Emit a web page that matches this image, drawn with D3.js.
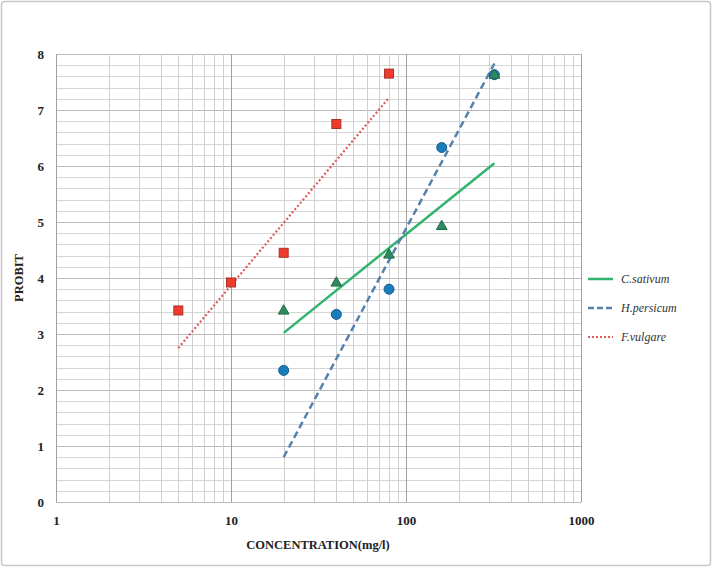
<!DOCTYPE html>
<html>
<head>
<meta charset="utf-8">
<script src="https://cdn.jsdelivr.net/npm/d3@7"></script>
<style>
  body { margin: 0; background: #fff; }
  svg { display: block; font-family: "Liberation Serif", "DejaVu Serif", serif; }
</style>
</head>
<body>
<div id="container"></div>
<script>
// probit values
var concC = [20, 40, 80, 160, 320];
var probitCsativum = [3.42, 3.92, 4.42, 4.93, 7.63];
var concH = [20, 40, 80, 160, 320];
var probitHpersicum = [2.35, 3.35, 3.80, 6.33, 7.63];
var concF = [5, 10, 20, 40, 80];
var probitFvulgare = [3.42, 3.92, 4.45, 6.75, 7.65];

// fitted lines, start and end as drawn
var fitCsativum = [[20, 3.02], [320, 6.05]];
var fitHpersicum = [[20, 0.80], [320, 7.83]];
var fitFvulgare = [[5, 2.75], [80, 7.22]];

var xTicks = [1, 10, 100, 1000];
var yTicks = [0, 1, 2, 3, 4, 5, 6, 7, 8];
var legendNames = ["C.sativum", "H.persicum", "F.vulgare"];

var width = 712, height = 567;
var plotLeft = 56, plotRight = 581, plotTop = 54, plotBottom = 502;

var svg = d3.select("#container").append("svg")
  .attr("width", width).attr("height", height);

// outer frame
svg.append("rect")
  .attr("x", 1.5).attr("y", 1.5)
  .attr("width", width - 3).attr("height", height - 3)
  .attr("rx", 3)
  .style("fill", "#fff").style("stroke", "#c8c8c8").style("stroke-width", 1.5);

var x = d3.scaleLog().domain([1, 1000]).range([plotLeft, plotRight]);
var y = d3.scaleLinear().domain([0, 8]).range([plotBottom, plotTop]);

// grid: minor lines first
var grid = svg.append("g");
var minorY = d3.range(0, 8.01, 0.2);
grid.selectAll("line.hy").data(minorY).enter().append("line")
  .attr("x1", plotLeft).attr("x2", plotRight)
  .attr("y1", function(d) { return Math.round(y(d)) + 0.5; })
  .attr("y2", function(d) { return Math.round(y(d)) + 0.5; })
  .style("stroke", function(d) { return Math.abs(d - Math.round(d)) < 1e-6 ? "#bababa" : "#d6d6d6"; })
  .style("stroke-width", 1);

var minorX = x.ticks();
grid.selectAll("line.vx").data(minorX).enter().append("line")
  .attr("x1", function(d) { return Math.round(x(d)) + 0.5; })
  .attr("x2", function(d) { return Math.round(x(d)) + 0.5; })
  .attr("y1", plotTop).attr("y2", plotBottom)
  .style("stroke", function(d) { return xTicks.indexOf(d) >= 0 ? "#a0a0a0" : "#cfcfcf"; })
  .style("stroke-width", 1);

// axes labels
var xAxis = d3.axisBottom(x).tickValues(xTicks).tickFormat(d3.format("d")).tickSize(0).tickPadding(14);
svg.append("g").attr("transform", "translate(0," + plotBottom + ")").call(xAxis)
  .call(function(g) { g.select(".domain").remove(); })
  .selectAll("text").style("font-family", "Liberation Serif, serif").style("font-size", "13px")
  .style("font-weight", "bold").style("fill", "#222");

var yAxis = d3.axisLeft(y).tickValues(yTicks).tickSize(0).tickPadding(12);
svg.append("g").attr("transform", "translate(" + plotLeft + ",0)").call(yAxis)
  .call(function(g) { g.select(".domain").remove(); })
  .selectAll("text").style("font-family", "Liberation Serif, serif").style("font-size", "13px")
  .style("font-weight", "bold").style("fill", "#222");

svg.append("text")
  .attr("x", 318).attr("y", 549)
  .attr("text-anchor", "middle")
  .style("font-size", "12.5px").style("font-weight", "bold").style("fill", "#222")
  .text("CONCENTRATION(mg/l)");

svg.append("text")
  .attr("transform", "translate(23," + ((plotTop + plotBottom) / 2) + ") rotate(-90)")
  .attr("text-anchor", "middle")
  .style("font-size", "12.5px").style("font-weight", "bold").style("fill", "#222")
  .text("PROBIT");

// fitted lines
var line = d3.line().x(function(d) { return x(d[0]); }).y(function(d) { return y(d[1]); });

svg.append("path").datum(fitFvulgare).attr("d", line)
  .style("fill", "none").style("stroke", "#e05a5a").style("stroke-width", 2.2)
  .style("stroke-dasharray", "2,2.2");
svg.append("path").datum(fitCsativum).attr("d", line)
  .style("fill", "none").style("stroke", "#2fb36e").style("stroke-width", 2.5);
svg.append("path").datum(fitHpersicum).attr("d", line)
  .style("fill", "none").style("stroke", "#5582ac").style("stroke-width", 2.5)
  .style("stroke-dasharray", "7,4");

// points
var ptsF = d3.zip(concF, probitFvulgare);
svg.selectAll("rect.f").data(ptsF).enter().append("rect")
  .attr("x", function(d) { return x(d[0]) - 4.5; })
  .attr("y", function(d) { return y(d[1]) - 4.5; })
  .attr("width", 9).attr("height", 9)
  .style("fill", "#ee3b2b").style("stroke", "#a8322a").style("stroke-width", 1);

var ptsH = d3.zip(concH, probitHpersicum);
svg.selectAll("circle.h").data(ptsH).enter().append("circle")
  .attr("cx", function(d) { return x(d[0]); })
  .attr("cy", function(d) { return y(d[1]); })
  .attr("r", 5)
  .style("fill", "#1a7dbb").style("stroke", "#175c8a").style("stroke-width", 1);

var ptsC = d3.zip(concC, probitCsativum);
var tri = d3.symbol().type(d3.symbolTriangle).size(50);
svg.selectAll("path.c").data(ptsC).enter().append("path")
  .attr("d", tri)
  .attr("transform", function(d) { return "translate(" + x(d[0]) + "," + (y(d[1]) + 0.5) + ")"; })
  .style("fill", "#2e8b5e").style("stroke", "#1f6b45").style("stroke-width", 1);

// legend
var legStyles = [
  { stroke: "#2fb36e", dash: null, w: 2.5 },
  { stroke: "#5582ac", dash: "6,3", w: 2.5 },
  { stroke: "#e05a5a", dash: "2,2", w: 2 }
];
var leg = svg.append("g");
legendNames.forEach(function(name, i) {
  var ly = 279 + i * 29;
  leg.append("line")
    .attr("x1", 588).attr("x2", 613).attr("y1", ly).attr("y2", ly)
    .style("stroke", legStyles[i].stroke).style("stroke-width", legStyles[i].w)
    .style("stroke-dasharray", legStyles[i].dash);
  leg.append("text")
    .attr("x", 621).attr("y", ly + 4)
    .style("font-size", "12px").style("font-style", "italic").style("fill", "#333")
    .text(name);
});
</script>
</body>
</html>
